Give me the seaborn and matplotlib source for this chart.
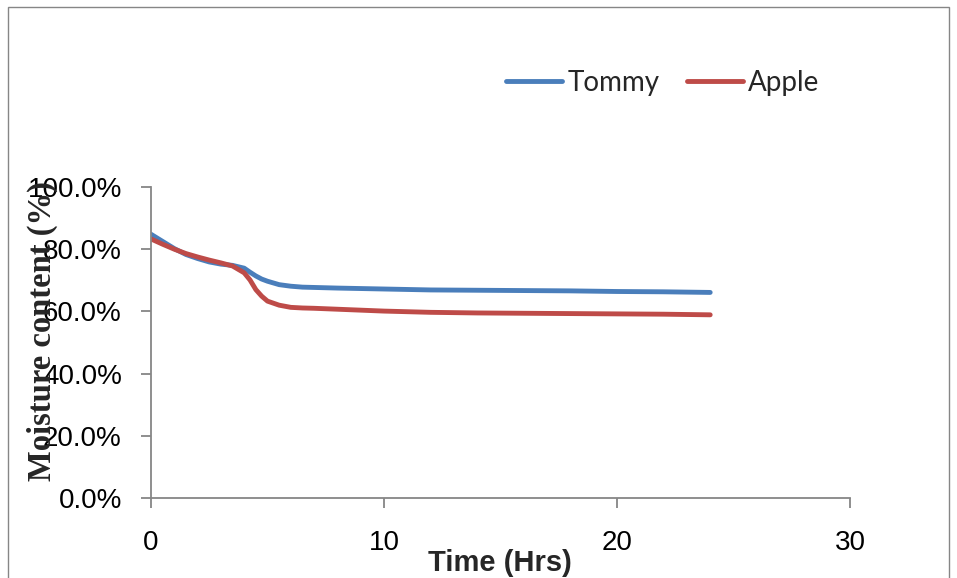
import matplotlib
matplotlib.use("Agg")
import matplotlib.pyplot as plt
from matplotlib.patches import Rectangle
from matplotlib.ticker import FuncFormatter
import seaborn as sns
import pandas as pd

# ---- data ----
time_hrs = [0, 0.5, 1, 1.5, 2, 2.5, 3, 3.5, 4, 4.25, 4.5, 4.75, 5, 5.5, 6, 6.5, 7,
            8, 10, 12, 14, 16, 18, 20, 22, 24]
tommy = [84.8, 82.5, 80.2, 78.3, 77.0, 75.9, 75.2, 74.8, 73.9, 72.6, 71.4, 70.4,
         69.7, 68.6, 68.1, 67.8, 67.7, 67.5, 67.2, 66.9, 66.8, 66.7, 66.6, 66.4,
         66.3, 66.1]
apple = [83.3, 81.6, 80.0, 78.6, 77.5, 76.5, 75.6, 74.6, 72.4, 70.1, 67.0, 64.9,
         63.3, 62.0, 61.3, 61.1, 61.0, 60.7, 60.1, 59.7, 59.5, 59.4, 59.3, 59.2,
         59.1, 58.9]
series_names = ["Tommy", "Apple"]
series_colors = ["#4A7EBB", "#BE4B48"]
x_ticks = [0, 10, 20, 30]
y_ticks = [0, 20, 40, 60, 80, 100]

df = pd.DataFrame({
    "Time": time_hrs * 2,
    "Moisture": tommy + apple,
    "Series": [series_names[0]] * len(time_hrs) + [series_names[1]] * len(time_hrs),
})

sns.set_theme(style="white")
plt.rcParams["font.family"] = ["Liberation Sans", "DejaVu Sans"]

fig = plt.figure(figsize=(9.57, 5.78), dpi=100)
ax = fig.add_axes([151 / 957, 80 / 578, 699 / 957, 311 / 578])

sns.lineplot(data=df, x="Time", y="Moisture", hue="Series", hue_order=series_names,
             palette=series_colors, linewidth=3.5, ax=ax, legend=False,
             solid_capstyle="round", solid_joinstyle="round")

ax.set_xlim(0, 30)
ax.set_ylim(0, 100)
ax.set_xticks(x_ticks)
ax.set_yticks(y_ticks)
ax.yaxis.set_major_formatter(FuncFormatter(lambda v, p: f"{v:.1f}%"))

for s in ["top", "right"]:
    ax.spines[s].set_visible(False)
for s in ["left", "bottom"]:
    ax.spines[s].set_color("#868686")
    ax.spines[s].set_linewidth(1.3)

ax.tick_params(axis="both", direction="out", length=7, width=1.3, color="#868686",
               left=True, bottom=True)
ax.tick_params(axis="y", pad=14, labelsize=20, labelcolor="black")
ax.tick_params(axis="x", pad=16, labelsize=20, labelcolor="black")

ax.set_xlabel("Time (Hrs)", fontsize=21, fontweight="bold")
ax.xaxis.set_label_coords(0.499, -0.165)

ax.set_ylabel("Moisture content (%)", fontsize=23.5, fontweight="bold",
              family=["Liberation Serif", "DejaVu Serif"])
ax.yaxis.label.set_va("center")
ax.yaxis.set_label_coords((42 - 151) / 699, (498 - 331) / 311)

# legend
handles = [plt.Line2D([], [], color=c, lw=3.5, solid_capstyle="round") for c in series_colors]
fig.legend(handles, series_names, loc="center", bbox_to_anchor=(663 / 957, 1 - 83 / 578),
           ncol=2, frameon=False, handlelength=2.0, handletextpad=0.2,
           columnspacing=1.0, borderpad=0, prop={"family": ["Lato", "DejaVu Sans"], "size": 20})

# outer chart border
fig.patches.append(Rectangle((8 / 957, -0.05), (949 - 8) / 957, 1.05 - 7 / 578,
                             transform=fig.transFigure, fill=False,
                             edgecolor="#868686", linewidth=1.0))

fig.savefig("out.png", dpi=100)
